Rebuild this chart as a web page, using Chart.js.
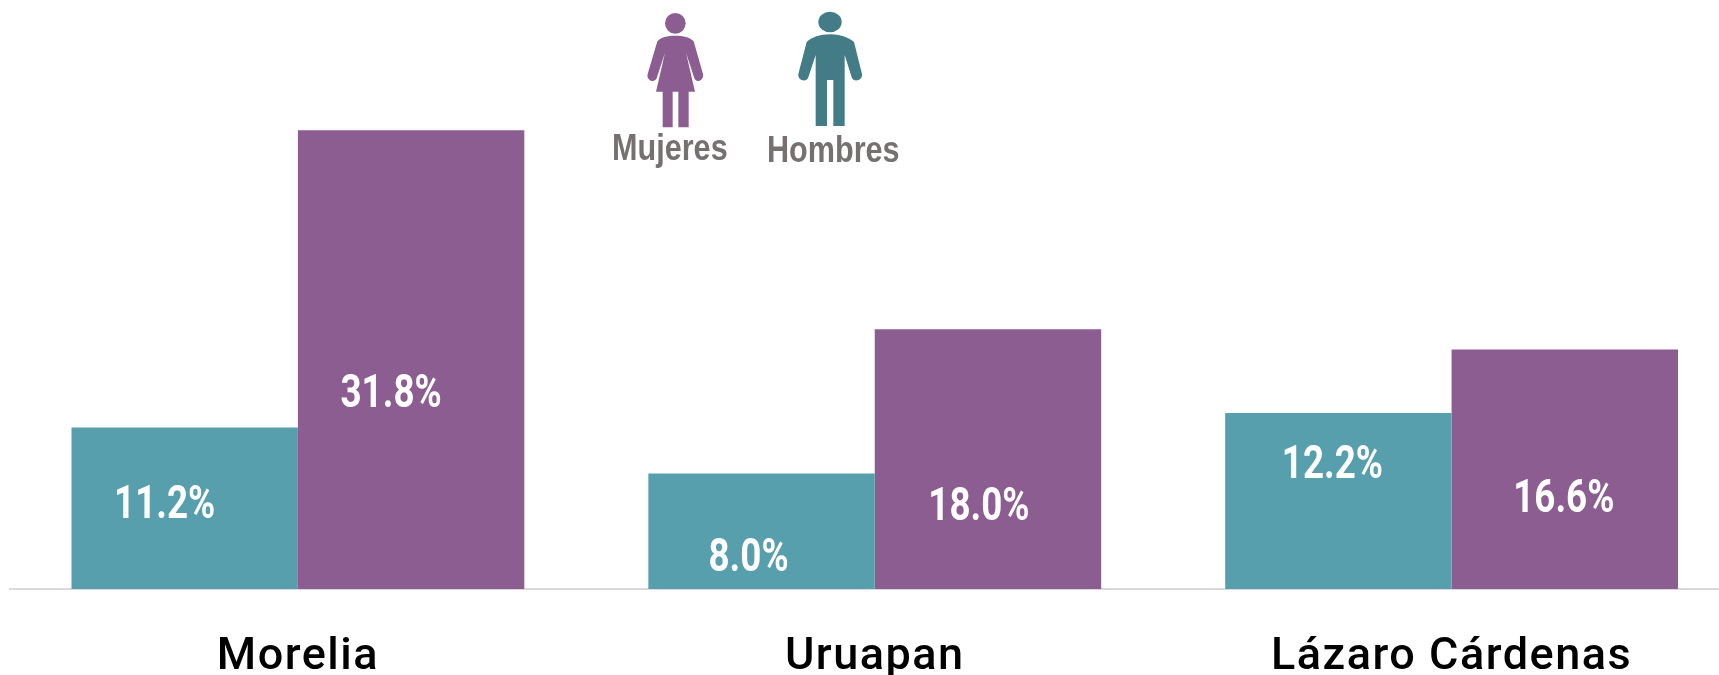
<!DOCTYPE html>
<html>
<head>
<meta charset="utf-8">
<script src="https://cdn.jsdelivr.net/npm/chart.js@4"></script>
<style>
  html, body { margin: 0; background: #fff; overflow: hidden; }
  #wrap { position: relative; width: 1719px; height: 675px; overflow: hidden; }
  #graph { position: absolute; left: 0; top: 0; }
  .icons { position: absolute; left: 600px; top: 0; }
  .leg { position: absolute; font: bold 36px "Liberation Sans"; color: #767171;
         transform: scaleX(.85); transform-origin: left top; white-space: nowrap; }
</style>
</head>
<body>
<div id="wrap">
  <canvas id="graph" width="1740" height="675"></canvas>
  <svg class="icons" width="320" height="180" viewBox="0 0 960 540">
    <circle cx="226" cy="70" r="31" fill="#8C5D91"/>
    <path fill="#8C5D91" d="M226 107C250 107 270 112 281 124L309 222C313 240 290 252 283 235L258 158L285 275L266 275L266 382L235 382L235 275L218 275L218 382L188 382L188 275L168 275L195 158L170 235C162 252 138 240 143 222L172 124C182 112 202 107 226 107Z"/>
    <ellipse cx="690" cy="66" rx="35" ry="31" fill="#437C87"/>
    <path fill="#437C87" d="M690 103C720 103 745 112 762 126L786 222C789 240 762 250 755 232L734 165L734 378L700 378L700 240L681 240L681 378L647 378L647 165L625 232C618 250 592 240 595 222L620 126C635 112 660 103 690 103Z"/>
  </svg>
  <div class="leg" style="left:612px; top:127px">Mujeres</div>
  <div class="leg" style="left:767px; top:129px">Hombres</div>
</div>
<script>
const ciudades = ["Morelia", "Uruapan", "Lázaro Cárdenas"];
const hombres = [11.2, 8.0, 12.2];
const mujeres = [31.8, 18.0, 16.6];

// label placement inside each bar, px from bar centre / bar top
const offsetX = [[-20, -13, -6], [-20, -9, -1]];
const offsetY = [[79, 86, 53], [265, 179, 151]];

const etiquetas = {
  id: "etiquetas",
  beforeDraw(chart) {
    chart.ctx.letterSpacing = "1.5px";
  },
  beforeDatasetsDraw(chart) {
    chart.ctx.letterSpacing = "0px";
  },
  afterDatasetsDraw(chart) {
    const ctx = chart.ctx;
    chart.data.datasets.forEach((ds, d) => {
      chart.getDatasetMeta(d).data.forEach((bar, i) => {
        ctx.save();
        ctx.translate(bar.x + offsetX[d][i], bar.y + offsetY[d][i]);
        ctx.scale(0.8, 1);
        ctx.font = "700 46px Roboto";
        ctx.fillStyle = "#fff";
        ctx.textAlign = "center";
        ctx.textBaseline = "middle";
        ctx.fillText(ds.data[i].toFixed(1) + "%", 0, 0);
        ctx.restore();
      });
    });
  }
};

new Chart(document.getElementById("graph"), {
  type: "bar",
  data: {
    labels: ciudades,
    datasets: [
      { label: "Hombres", data: hombres, backgroundColor: "#579FAD" },
      { label: "Mujeres", data: mujeres, backgroundColor: "#8C5D91" }
    ]
  },
  options: {
    responsive: false,
    animation: false,
    layout: { padding: { left: 9.5, top: 12 } },
    datasets: { bar: { categoryPercentage: 0.785, barPercentage: 1 } },
    plugins: { legend: { display: false }, tooltip: { enabled: false } },
    scales: {
      y: { display: false, min: 0, max: 40 },
      x: {
        afterFit(scale) { scale.height = 86; },
        grid: { display: false },
        border: { color: "#D9D9D9", width: 2 },
        ticks: {
          color: "#000",
          padding: 34,
          maxRotation: 0,
          font: { family: "Roboto", size: 45, weight: "500" }
        }
      }
    }
  },
  plugins: [etiquetas]
});
</script>
</body>
</html>
